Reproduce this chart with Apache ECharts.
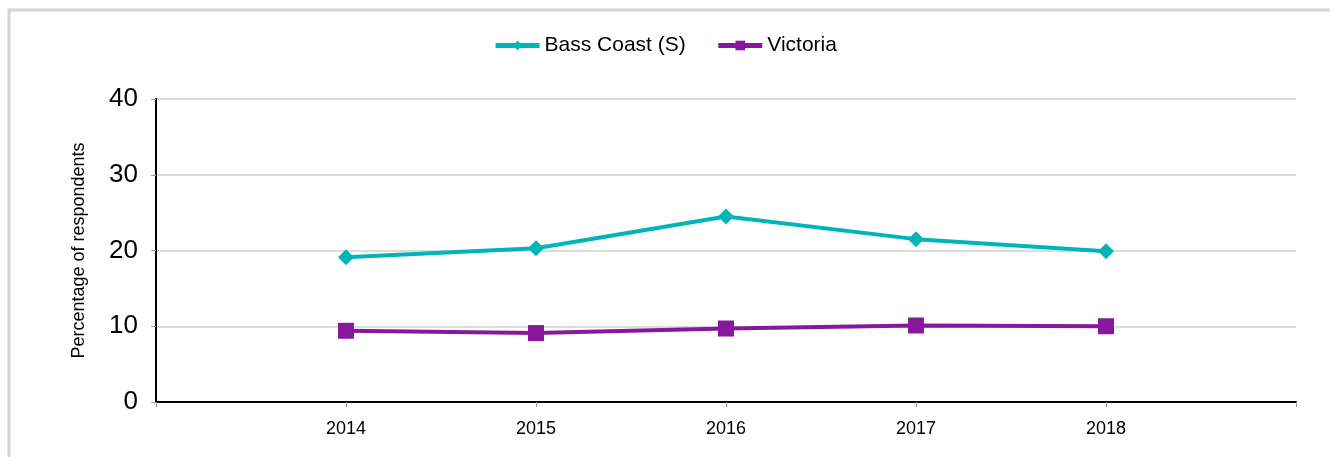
<!DOCTYPE html>
<html>
<head>
<meta charset="utf-8">
<script src="https://cdn.jsdelivr.net/npm/echarts@6/dist/echarts.min.js"></script>
<style>
html,body{margin:0;padding:0;background:#fff;}
#chart{width:1330px;height:457px;}
</style>
</head>
<body>
<div id="chart"></div>
<script>
var years = [2014, 2015, 2016, 2017, 2018];
var bassCoast = [19.1, 20.3, 24.5, 21.5, 19.9];
var victoria = [9.4, 9.1, 9.7, 10.1, 10.0];
var yTicks = [0, 10, 20, 30, 40];

function pairs(vals){ return years.map(function(y,i){ return [y, vals[i]]; }); }

var chart = echarts.init(document.getElementById('chart'));
chart.setOption({
  animation: false,
  textStyle: { fontFamily: 'Liberation Sans, Arial, sans-serif' },
  graphic: [{
    type: 'rect', shape: { x: 9, y: 10, width: 1400, height: 600 },
    style: { fill: 'none', stroke: '#d6d6d6', lineWidth: 3 }, silent: true, z: -1
  }],
  legend: {
    top: 30, left: 'center', itemWidth: 44, itemHeight: 12, itemGap: 30,
    lineStyle: { width: 5 },
    textStyle: { fontSize: 21, color: '#000', fontFamily: 'Liberation Sans, Arial, sans-serif' },
    data: ['Bass Coast (S)', 'Victoria']
  },
  grid: { left: 156, right: 34, top: 99, bottom: 55, containLabel: false },
  xAxis: {
    type: 'value', min: years[0] - 1, max: years[years.length - 1] + 1, interval: 1,
    axisLine: { show: true, onZero: false, lineStyle: { color: '#000', width: 2 } },
    axisTick: { show: true, length: 5, lineStyle: { color: '#999' } },
    splitLine: { show: false },
    axisLabel: {
      fontSize: 18, color: '#000', margin: 18,
      formatter: function(v){ return years.indexOf(v) >= 0 ? String(v) : ''; }
    }
  },
  yAxis: {
    type: 'value', min: yTicks[0], max: yTicks[yTicks.length - 1], interval: 10,
    name: 'Percentage of respondents', nameLocation: 'middle', nameGap: 68,
    nameTextStyle: { fontSize: 18, color: '#000' },
    axisLine: { show: true, lineStyle: { color: '#000', width: 2 } },
    axisTick: { show: true, length: 5, lineStyle: { color: '#999' } },
    splitLine: { show: true, lineStyle: { color: '#dcdcdc', width: 2 } },
    axisLabel: { fontSize: 26, color: '#000', margin: 18 }
  },
  series: [
    {
      name: 'Bass Coast (S)', type: 'line', data: pairs(bassCoast),
      symbol: 'diamond', symbolSize: 16,
      lineStyle: { color: '#00b5b8', width: 4 },
      itemStyle: { color: '#00b5b8' }
    },
    {
      name: 'Victoria', type: 'line', data: pairs(victoria),
      symbol: 'rect', symbolSize: 16,
      lineStyle: { color: '#87189d', width: 4 },
      itemStyle: { color: '#87189d' }
    }
  ]
});
</script>
</body>
</html>
